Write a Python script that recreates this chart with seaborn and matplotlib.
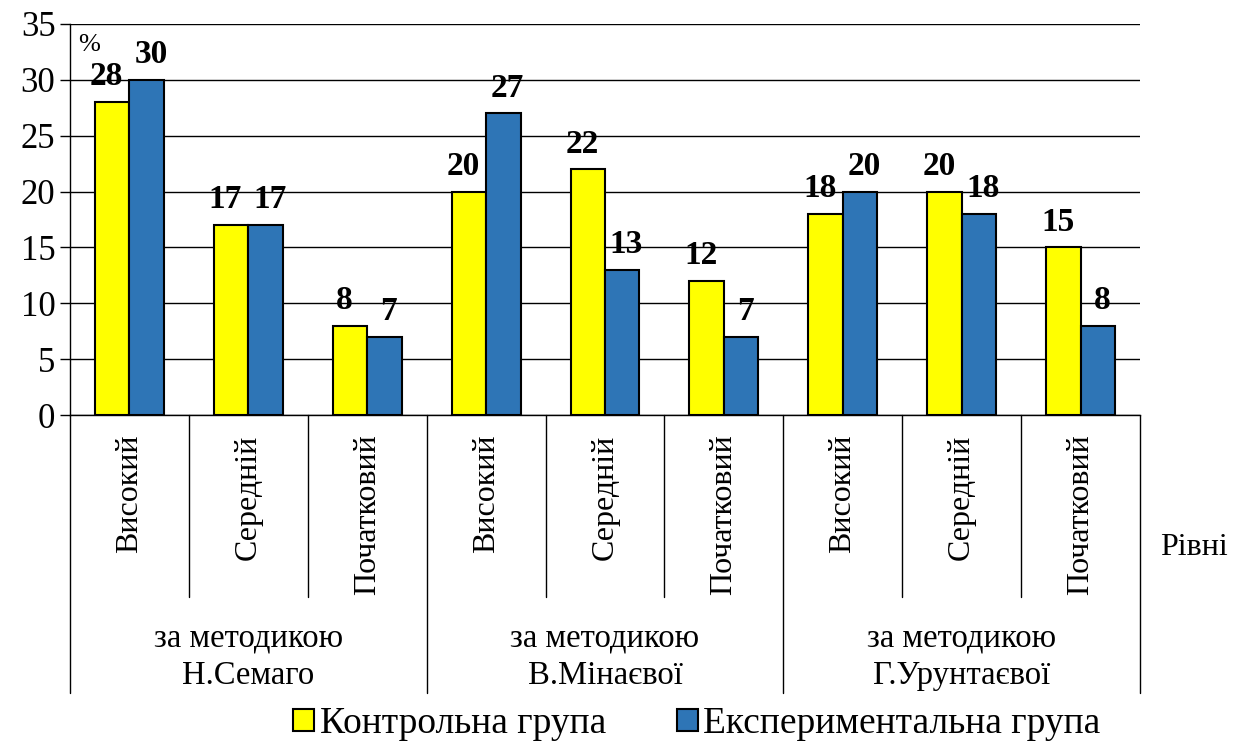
import matplotlib
matplotlib.use("Agg")
import matplotlib.pyplot as plt
import matplotlib.transforms as mtransforms
from matplotlib.patches import Patch
import pandas as pd
import seaborn as sns

methods = ["за методикою\nН.Семаго", "за методикою\nВ.Мінаєвої", "за методикою\nГ.Урунтаєвої"]
levels = ["Високий", "Середній", "Початковий"]
series = ["Контрольна група", "Експериментальна група"]
control = [28, 17, 8, 20, 22, 12, 18, 20, 15]
experimental = [30, 17, 7, 27, 13, 7, 20, 18, 8]
colors = ["#FFFF00", "#2E75B6"]

keys = [f"{m}|{lv}" for m in methods for lv in levels]
df = pd.DataFrame({
    "key": keys * 2,
    "group": [series[0]] * len(keys) + [series[1]] * len(keys),
    "value": control + experimental,
})

sns.set_theme(style="white")
plt.rcParams["font.family"] = ["Liberation Serif", "DejaVu Serif"]
plt.rcParams["text.color"] = "black"
plt.rcParams["ytick.color"] = "black"
plt.rcParams["xtick.color"] = "black"

fig = plt.figure(figsize=(12.4, 7.51), dpi=100)
ax = fig.add_axes([70 / 1240, 1 - 415 / 751, 1070 / 1240, 391 / 751])

sns.barplot(data=df, x="key", y="value", hue="group", order=keys, hue_order=series,
            palette=colors, saturation=1, width=0.58, edgecolor="black", linewidth=1.5,
            legend=False, ax=ax, zorder=3)

# labels sit a little outward from the pair, like the original
for cont, dx in zip(ax.containers, [-4, 3]):
    labels = ax.bar_label(cont, fmt="%d", padding=7, fontsize=24, fontweight="bold", color="black")
    for t in labels:
        t.xyann = (dx, t.xyann[1])

ax.set_xlim(-0.5, len(keys) - 0.5)
ax.set_ylim(0, 35)
ax.set_yticks(range(0, 36, 5))
ax.tick_params(axis="y", labelsize=25, direction="out", length=7, width=1, color="black", left=True)
ax.tick_params(axis="x", bottom=False, labelbottom=False)
ax.yaxis.grid(True, color="black", linewidth=1)
ax.set_axisbelow(True)
for s in ["top", "right"]:
    ax.spines[s].set_visible(False)
for s in ["left", "bottom"]:
    ax.spines[s].set_color("black")
    ax.spines[s].set_linewidth(1)
ax.set_xlabel("")
ax.set_ylabel("")

trans = mtransforms.blended_transform_factory(ax.transData, ax.transAxes)
for i, k in enumerate(keys):
    ax.text(i, -0.05, k.split("|")[1], rotation=90, ha="center", va="top",
            fontsize=23, transform=trans, clip_on=False)
for i in range(len(keys) + 1):
    bottom = -0.71 if i % 3 == 0 else -0.465
    ax.plot([i - 0.5, i - 0.5], [0, bottom], color="black", linewidth=1,
            transform=trans, clip_on=False)
for j, m in enumerate(methods):
    ax.text(j * 3 + 1, -0.62, m, ha="center", va="center", fontsize=23.5,
            linespacing=1.3, transform=trans, clip_on=False)

ax.text(1.019, -0.34, "Рівні", ha="left", va="center", fontsize=23,
        transform=ax.transAxes, clip_on=False)
ax.text(0.008, 0.975, "%", ha="left", va="top", fontsize=19, transform=ax.transAxes)

handles = [Patch(facecolor=c, edgecolor="black", linewidth=1.5) for c in colors]
fig.legend(handles, series, loc="center", bbox_to_anchor=(0.562, 0.036), ncol=2,
           frameon=False, fontsize=27, handlelength=0.55, handleheight=0.55,
           handletextpad=0.15, columnspacing=1.9)

fig.savefig("out.png", dpi=100)
